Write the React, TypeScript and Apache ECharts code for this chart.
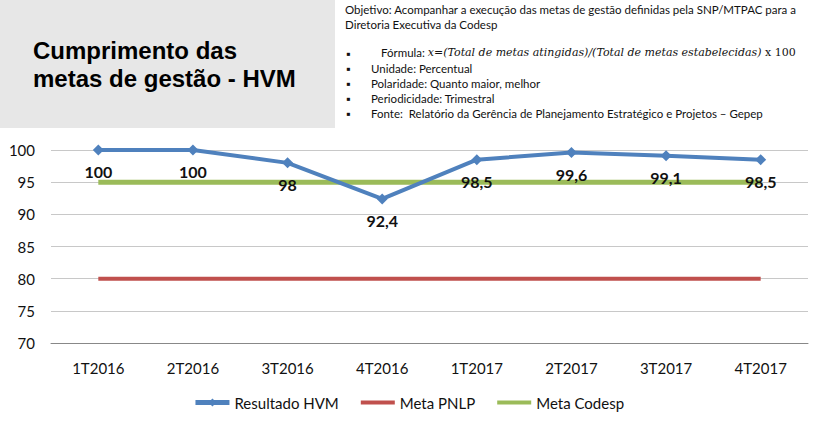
import React, { useEffect, useRef } from "react";
import * as echarts from "echarts";

const categories = ["1T2016", "2T2016", "3T2016", "4T2016", "1T2017", "2T2017", "3T2017", "4T2017"];
const resultadoHVM = [100, 100, 98, 92.4, 98.5, 99.6, 99.1, 98.5];
const metaPNLP = [80, 80, 80, 80, 80, 80, 80, 80];
const metaCodesp = [95, 95, 95, 95, 95, 95, 95, 95];
const yTicks = { min: 70, max: 100, interval: 5 };

const FONT = "Lato, 'Open Sans', sans-serif";
const BAR_ICON = "path://M0,0 M34,10 M0,3 L34,3 L34,7 L0,7 Z";

export default function App() {
  const ref = useRef<HTMLDivElement>(null);
  useEffect(() => {
    if (!ref.current) return;
    const chart = echarts.init(ref.current, null, { renderer: "svg" });
    const infoStyle = { fontFamily: FONT, fontSize: 11.5, fill: "#111" };
    chart.setOption({
      animation: false,
      backgroundColor: "#fff",
      grid: { left: 51, right: 9, top: 150, bottom: 81 },
      legend: {
        bottom: 9,
        left: "center",
        itemWidth: 34,
        itemHeight: 10,
        itemGap: 22,
        textStyle: { fontFamily: FONT, fontSize: 15, color: "#111" },
        data: [
          { name: "Resultado HVM", lineStyle: { width: 5 } },
          { name: "Meta PNLP", icon: BAR_ICON },
          { name: "Meta Codesp", icon: BAR_ICON },
        ],
      },
      xAxis: {
        type: "category",
        data: categories,
        boundaryGap: true,
        axisLine: { lineStyle: { color: "#888", width: 1 } },
        axisTick: { show: false },
        axisLabel: { fontFamily: FONT, fontSize: 15, color: "#111", margin: 17 },
      },
      yAxis: {
        type: "value",
        min: yTicks.min,
        max: yTicks.max,
        interval: yTicks.interval,
        axisLine: { show: false },
        axisTick: { show: false },
        axisLabel: { fontFamily: FONT, fontSize: 15, color: "#111", margin: 16 },
        splitLine: { lineStyle: { color: "#c8c8c8", width: 1 } },
      },
      series: [
        {
          name: "Meta PNLP",
          type: "line",
          data: metaPNLP,
          symbol: "none",
          lineStyle: { color: "#c0504d", width: 4 },
          itemStyle: { color: "#c0504d" },
        },
        {
          name: "Meta Codesp",
          type: "line",
          data: metaCodesp,
          symbol: "none",
          lineStyle: { color: "#9bbb59", width: 5 },
          itemStyle: { color: "#9bbb59" },
        },
        {
          name: "Resultado HVM",
          type: "line",
          data: resultadoHVM,
          symbol: "diamond",
          symbolSize: 11,
          lineStyle: { color: "#4f81bd", width: 4 },
          itemStyle: { color: "#4f81bd" },
          z: 5,
          label: {
            show: true,
            position: "bottom",
            distance: 8,
            fontFamily: FONT,
            fontSize: 16,
            fontWeight: "bold",
            color: "#111",
            formatter: (p: any) => String(p.value).replace(".", ","),
          },
        },
      ],
      graphic: [
        { type: "rect", left: 0, top: 0, shape: { width: 335, height: 128 }, style: { fill: "#e7e7e7" }, z: 0 },
        {
          type: "text",
          left: 33,
          top: 36,
          style: {
            text: "Cumprimento das\nmetas de gestão - HVM",
            fontFamily: "Liberation Sans, Arial, sans-serif",
            fontWeight: "bold",
            fontSize: 24,
            lineHeight: 28,
            fill: "#000",
          },
        },
        { type: "text", left: 345, top: 3, style: { ...infoStyle, text: "Objetivo: Acompanhar a execução das metas de gestão definidas pela SNP/MTPAC para a" } },
        { type: "text", left: 345, top: 18, style: { ...infoStyle, text: "Diretoria Executiva da Codesp" } },
        { type: "text", left: 346, top: 47, style: { ...infoStyle, text: "▪" } },
        { type: "text", left: 346, top: 62, style: { ...infoStyle, text: "▪" } },
        { type: "text", left: 346, top: 77, style: { ...infoStyle, text: "▪" } },
        { type: "text", left: 346, top: 92, style: { ...infoStyle, text: "▪" } },
        { type: "text", left: 346, top: 107, style: { ...infoStyle, text: "▪" } },
        {
          type: "text",
          left: 381,
          top: 46,
          style: {
            ...infoStyle,
            text: "{n|Fórmula: }{m|x=(Total de metas atingidas)/(Total de metas estabelecidas)}{s| x 100}",
            rich: {
              n: { fontFamily: FONT, fontSize: 11.5, fill: "#111" },
              m: { fontFamily: "'DejaVu Serif', serif", fontStyle: "italic", fontSize: 11, fill: "#111" },
              s: { fontFamily: "'DejaVu Serif', serif", fontSize: 11, fill: "#111" },
            },
          },
        },
        { type: "text", left: 371, top: 62, style: { ...infoStyle, text: "Unidade: Percentual" } },
        { type: "text", left: 371, top: 77, style: { ...infoStyle, text: "Polaridade: Quanto maior, melhor" } },
        { type: "text", left: 371, top: 92, style: { ...infoStyle, text: "Periodicidade: Trimestral" } },
        { type: "text", left: 371, top: 107, style: { ...infoStyle, text: "Fonte:  Relatório da Gerência de Planejamento Estratégico e Projetos – Gepep" } },
      ],
    });
    return () => chart.dispose();
  }, []);
  return <div ref={ref} style={{ position: "fixed", left: 0, top: 0, width: 817, height: 424 }} />;
}
